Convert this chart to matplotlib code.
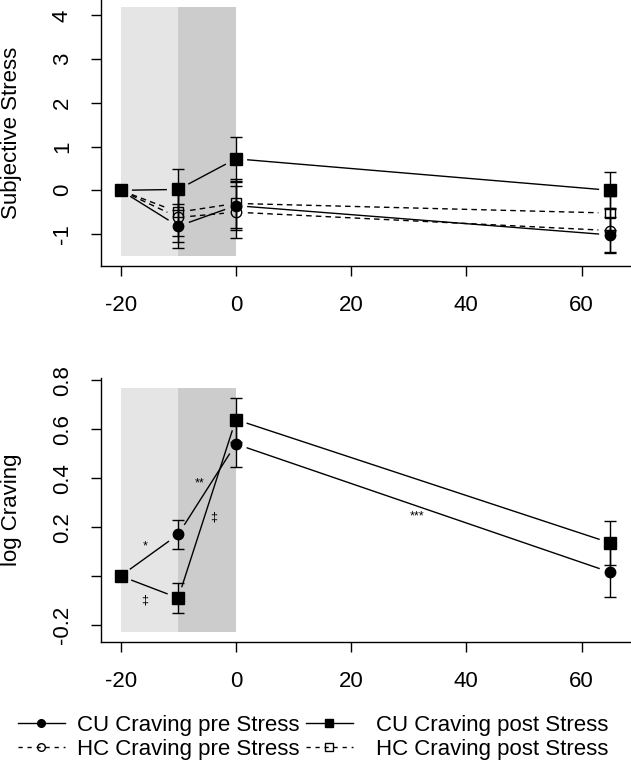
import numpy as np
import matplotlib
matplotlib.use("Agg")
import matplotlib.pyplot as plt
from matplotlib.lines import Line2D

plt.rcParams['font.family'] = ['Liberation Sans', 'DejaVu Sans']
plt.rcParams['font.size'] = 16
plt.rcParams['axes.unicode_minus'] = False

# time points (minutes relative to stress)
times = [-20, -10, 0, 65]

# subjective stress (mean, SE)
stress_cu_pre = [0, -0.82, -0.35, -1.02]
stress_cu_pre_se = [0, 0.50, 0.55, 0.42]
stress_cu_post = [0, 0.02, 0.72, 0.0]
stress_cu_post_se = [0, 0.46, 0.50, 0.41]
stress_hc_pre = [0, -0.62, -0.50, -0.92]
stress_hc_pre_se = [0, 0.55, 0.60, 0.50]
stress_hc_post = [0, -0.50, -0.30, -0.52]
stress_hc_post_se = [0, 0.55, 0.57, 0.38]

# log craving (CU only)
crave_cu_pre = [0, 0.17, 0.54, 0.015]
crave_cu_pre_se = [0, 0.06, 0.095, 0.10]
crave_cu_post = [0, -0.09, 0.64, 0.135]
crave_cu_post_se = [0, 0.06, 0.09, 0.09]

# shaded phases
phase1 = [-20, -10]
phase2 = [-10, 0]
stress_shade = [-1.5, 4.2]
crave_shade = [-0.23, 0.77]

stress_ticks = [-1, 0, 1, 2, 3, 4]
crave_ticks = [-0.2, 0.0, 0.2, 0.4, 0.6, 0.8]
crave_ticklabels = ['-0.2', '', '0.2', '0.4', '0.6', '0.8']
x_ticks = [-20, 0, 20, 40, 60]

# significance marks (text, x, y)
sig_marks = [('*', -15.8, 0.12), ('\u2021', -15.8, -0.10), ('**', -6.3, 0.38),
             ('\u2021', -3.8, 0.24), ('***', 31.5, 0.245)]

W, H = 631, 764
fig = plt.figure(figsize=(W / 100, H / 100), dpi=100)
ax1 = fig.add_axes([101 / W, (H - 266) / H, 529 / W, 266 / H])
ax2 = fig.add_axes([101 / W, (H - 642) / H, 529 / W, 264 / H])


def setup(ax, ylim, yticks, yticklabels, shade):
    ax.set_xlim(-23.4, 68.4)
    ax.set_ylim(*ylim)
    ax.fill_between(phase1, shade[0], shade[1], color='#e5e5e5', lw=0, zorder=0)
    ax.fill_between(phase2, shade[0], shade[1], color='#cccccc', lw=0, zorder=0)
    for s in ['top', 'right']:
        ax.spines[s].set_visible(False)
    for s in ['left', 'bottom']:
        ax.spines[s].set_linewidth(1.0)
    ax.set_xticks(x_ticks)
    ax.set_xticklabels([str(v) for v in x_ticks])
    ax.set_yticks(yticks)
    ax.set_yticklabels(yticklabels, rotation=90, va='center')
    ax.xaxis.set_tick_params(direction='out', length=7.2, width=1.0, labelsize=16, pad=14)
    ax.yaxis.set_tick_params(direction='out', length=7.2, width=1.0, labelsize=16, pad=13)


# R type="b" look: lines stop short of the points
def gapped_line(ax, x, y, gap=12, **kw):
    pts = ax.transData.transform(np.column_stack([x, y]))
    inv = ax.transData.inverted()
    for p0, p1 in zip(pts[:-1], pts[1:]):
        d = p1 - p0
        L = np.hypot(*d)
        if L <= 2 * gap:
            continue
        u = d / L
        seg = inv.transform(np.array([p0 + u * gap, p1 - u * gap]))
        ax.plot(seg[:, 0], seg[:, 1], color='black', lw=1.0, **kw)


def series(ax, y, se, marker, filled, dashed, ms):
    y = np.array(y, float)
    se = np.array(se, float)
    t = np.array(times, float)
    ls = (0, (4, 3)) if dashed else '-'
    gapped_line(ax, t, y, linestyle=ls, zorder=2)
    m = se > 0
    ax.errorbar(t[m], y[m], yerr=se[m], fmt='none', ecolor='black', elinewidth=1.0,
                capsize=4.3, capthick=1.0, zorder=3)
    ax.plot(t, y, linestyle='none', marker=marker, ms=ms, mew=1.0,
            mfc='black' if filled else 'none', mec='black', zorder=4)


setup(ax1, (-1.73, 4.35), stress_ticks, [str(v) for v in stress_ticks], stress_shade)
setup(ax2, (-0.27, 0.81), crave_ticks, crave_ticklabels, crave_shade)

series(ax1, stress_hc_pre, stress_hc_pre_se, 'o', False, True, 7.5)
series(ax1, stress_hc_post, stress_hc_post_se, 's', False, True, 7.5)
series(ax1, stress_cu_pre, stress_cu_pre_se, 'o', True, False, 7.5)
series(ax1, stress_cu_post, stress_cu_post_se, 's', True, False, 8)

series(ax2, crave_cu_pre, crave_cu_pre_se, 'o', True, False, 7.5)
series(ax2, crave_cu_post, crave_cu_post_se, 's', True, False, 8)

for txt, x, y in sig_marks:
    ax2.text(x, y, txt, ha='center', va='center', fontsize=9)

fig.text(12 / W, 1 - 133 / H, 'Subjective Stress', rotation=90, ha='center', va='center', fontsize=16)
fig.text(12 / W, 1 - 510 / H, 'log Craving', rotation=90, ha='center', va='center', fontsize=16)

dash = (0, (3, 3.5))
h_cu_pre = Line2D([], [], color='black', lw=1.0, marker='o', ms=5.5, mfc='black', mec='black')
h_hc_pre = Line2D([], [], color='black', lw=1.0, ls=dash, marker='o', ms=5.5, mfc='none', mec='black')
h_cu_post = Line2D([], [], color='black', lw=1.0, marker='s', ms=5.5, mfc='black', mec='black')
h_hc_post = Line2D([], [], color='black', lw=1.0, ls=dash, marker='s', ms=5.5, mfc='none', mec='black')

leg_kw = dict(frameon=False, loc='upper left', fontsize=16, handlelength=2.1,
              labelspacing=0.12, borderpad=0, borderaxespad=0)
fig.legend([h_cu_pre, h_hc_pre], ['CU Craving pre Stress', 'HC Craving pre Stress'],
           bbox_to_anchor=(18 / W, 1 - 715 / H), handletextpad=0.54, **leg_kw)
fig.legend([h_cu_post, h_hc_post], ['CU Craving post Stress', 'HC Craving post Stress'],
           bbox_to_anchor=(306 / W, 1 - 715 / H), handletextpad=1.05, **leg_kw)

fig.savefig('out.png', dpi=100)
